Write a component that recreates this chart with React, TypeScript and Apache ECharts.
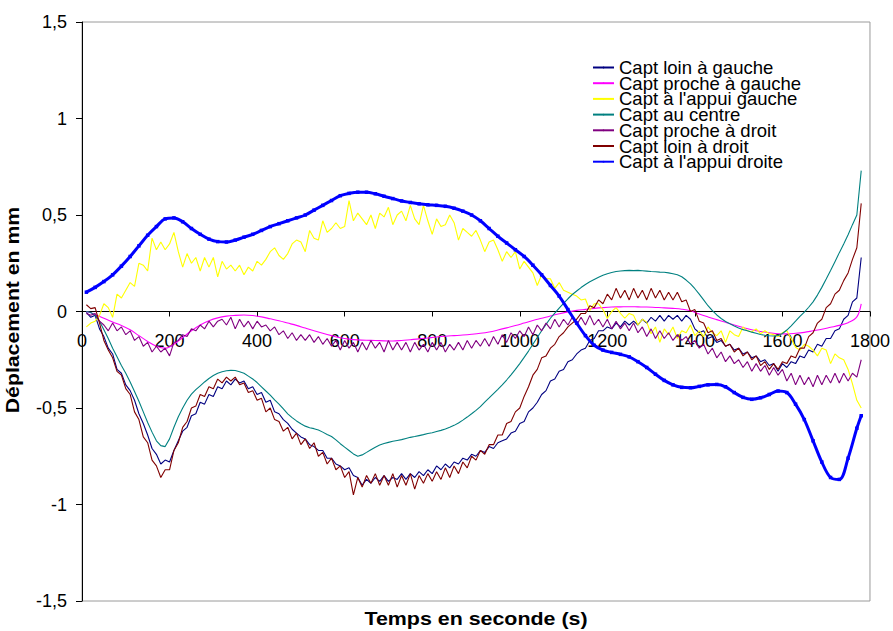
import React, { useEffect, useRef } from "react";
import * as echarts from "echarts";

const FONT = "'Liberation Sans', Arial, Helvetica, sans-serif";

const X_MIN = 0;
const X_MAX = 1800;
const X_STEP = 200;
const Y_MIN = -1.5;
const Y_MAX = 1.5;
const Y_STEP = 0.5;

const X_TITLE = "Temps en seconde (s)";
const Y_TITLE = "Déplacement en mm";

const seriesNames = [
  "Capt loin à gauche",
  "Capt proche à gauche",
  "Capt à l'appui gauche",
  "Capt au centre",
  "Capt proche à droit",
  "Capt loin à droit",
  "Capt à l'appui droite",
];
const seriesColors = ["#000080", "#FF00FF", "#FFFF00", "#008080", "#800080", "#800000", "#0000FF"];

// sampled every 10 s, from 10 s to 1780 s
const captLoinGauche = [
  -0.005, -0.03, -0.02, -0.09, -0.13, -0.19, -0.22, -0.3, -0.32, -0.38,
  -0.41, -0.46, -0.53, -0.58, -0.64, -0.71, -0.74, -0.79, -0.77, -0.78,
  -0.72, -0.67, -0.62, -0.6, -0.54, -0.53, -0.47, -0.48, -0.43, -0.44,
  -0.39, -0.4, -0.36, -0.38, -0.35, -0.37, -0.36, -0.4, -0.39, -0.43,
  -0.42, -0.47, -0.46, -0.52, -0.53, -0.56, -0.58, -0.61, -0.63, -0.65,
  -0.66, -0.69, -0.7, -0.72, -0.72, -0.76, -0.76, -0.79, -0.8, -0.82,
  -0.81, -0.85, -0.86, -0.9, -0.87, -0.89, -0.86, -0.88, -0.85, -0.88,
  -0.86, -0.87, -0.84, -0.87, -0.84, -0.86, -0.83, -0.85, -0.82, -0.84,
  -0.8, -0.82, -0.79, -0.81, -0.78, -0.79, -0.76, -0.77, -0.74, -0.75,
  -0.72, -0.73, -0.7, -0.71, -0.68, -0.67, -0.66, -0.63, -0.62, -0.58,
  -0.57, -0.52, -0.5, -0.47, -0.43, -0.41, -0.36, -0.35, -0.31, -0.3,
  -0.26, -0.25, -0.22, -0.2, -0.19, -0.15, -0.14, -0.1, -0.1, -0.08,
  -0.09, -0.06, -0.08, -0.05, -0.07, -0.05, -0.07, -0.04, -0.06, -0.03,
  -0.05, -0.02, -0.05, -0.02, -0.04, -0.02, -0.05, -0.02, -0.04, -0.09,
  -0.11, -0.1, -0.14, -0.13, -0.16, -0.15, -0.18, -0.17, -0.2, -0.19,
  -0.22, -0.21, -0.24, -0.23, -0.26, -0.25, -0.28, -0.27, -0.31, -0.27,
  -0.29, -0.26, -0.27, -0.23, -0.24, -0.2, -0.21, -0.17, -0.18, -0.14,
  -0.14, -0.1, -0.09, -0.04, -0.02, 0.05, 0.07, 0.28,
];

// sampled every 20 s, from 10 s, last sample at 1780 s
const captProcheGauche = [
  0.0, -0.015, -0.035, -0.055, -0.072, -0.095, -0.125, -0.155, -0.18, -0.19,
  -0.17, -0.135, -0.1, -0.07, -0.048, -0.033, -0.024, -0.02, -0.018, -0.021,
  -0.028, -0.038, -0.048, -0.06, -0.072, -0.086, -0.1, -0.113, -0.125, -0.136,
  -0.143, -0.147, -0.149, -0.15, -0.152, -0.153, -0.15, -0.146, -0.142, -0.137,
  -0.132, -0.128, -0.125, -0.122, -0.118, -0.113, -0.106, -0.096, -0.085, -0.073,
  -0.06, -0.047, -0.035, -0.023, -0.012, -0.002, 0.006, 0.011, 0.016, 0.02,
  0.023, 0.024, 0.025, 0.024, 0.023, 0.021, 0.019, 0.016, 0.012, 0.004,
  -0.013, -0.028, -0.042, -0.056, -0.07, -0.083, -0.095, -0.104, -0.11, -0.115,
  -0.116, -0.113, -0.108, -0.1, -0.092, -0.082, -0.072, -0.058, -0.028,
  0.04,
];

// sampled every 10 s
const captAppuiGauche = [
  -0.08, -0.06, -0.05, -0.02, 0.04, 0.02, -0.03, 0.09, 0.07, 0.11,
  0.15, 0.13, 0.25, 0.24, 0.21, 0.38, 0.32, 0.36, 0.32, 0.35,
  0.41, 0.31, 0.23, 0.3, 0.25, 0.28, 0.21, 0.28, 0.23, 0.28,
  0.18, 0.26, 0.22, 0.24, 0.21, 0.24, 0.19, 0.23, 0.21, 0.26,
  0.24, 0.27, 0.31, 0.33, 0.29, 0.27, 0.3, 0.35, 0.37, 0.36,
  0.31, 0.42, 0.38, 0.37, 0.47, 0.41, 0.43, 0.46, 0.43, 0.44,
  0.575, 0.47, 0.51, 0.48, 0.45, 0.5, 0.43, 0.51, 0.49, 0.54,
  0.45, 0.5, 0.52, 0.47, 0.55, 0.48, 0.45, 0.55, 0.47, 0.4,
  0.48, 0.44, 0.45, 0.5, 0.46, 0.37, 0.43, 0.41, 0.39, 0.42,
  0.37, 0.31, 0.36, 0.37, 0.32, 0.26, 0.31, 0.28, 0.31, 0.22,
  0.26, 0.23, 0.2, 0.135, 0.19, 0.17, 0.17, 0.12, 0.15, 0.11,
  0.1, 0.09, 0.08, 0.06, 0.065, 0.005, 0.04, 0.04, 0.01, -0.036,
  0.0, 0.02, -0.01, -0.035, -0.01, -0.02, -0.07, -0.04, -0.055, -0.115,
  -0.08, -0.16, -0.09, -0.12, -0.08, -0.14, -0.1, -0.11, -0.07, -0.125,
  -0.1, -0.13, -0.08, -0.11, -0.125, -0.1, -0.16, -0.1, -0.12, -0.13,
  -0.08, -0.1, -0.105, -0.09, -0.115, -0.1, -0.115, -0.12, -0.13, -0.11,
  -0.1, -0.14, -0.185, -0.2, -0.17, -0.18, -0.2, -0.23, -0.19, -0.2,
  -0.27, -0.22, -0.24, -0.25, -0.3, -0.375, -0.46, -0.5,
];

// sampled every 10 s
const captCentre = [
  0.0, -0.005, -0.02, -0.05, -0.095, -0.14, -0.19, -0.235, -0.28, -0.32,
  -0.365, -0.415, -0.465, -0.52, -0.575, -0.625, -0.67, -0.695, -0.7, -0.66,
  -0.6, -0.545, -0.5, -0.46, -0.428, -0.405, -0.385, -0.365, -0.347, -0.332,
  -0.32, -0.312, -0.307, -0.305, -0.306, -0.312, -0.32, -0.335, -0.35, -0.368,
  -0.39, -0.412, -0.433, -0.458, -0.48, -0.505, -0.53, -0.55, -0.567, -0.582,
  -0.594, -0.602, -0.607, -0.614, -0.625, -0.637, -0.648, -0.665, -0.685, -0.703,
  -0.72, -0.738, -0.75, -0.743, -0.73, -0.716, -0.703, -0.692, -0.684, -0.678,
  -0.672, -0.668, -0.664, -0.658, -0.652, -0.648, -0.643, -0.638, -0.632, -0.628,
  -0.622, -0.616, -0.609, -0.6, -0.59, -0.578, -0.563, -0.547, -0.53, -0.512,
  -0.493, -0.47, -0.448, -0.425, -0.403, -0.38, -0.355, -0.328, -0.3, -0.27,
  -0.238, -0.205, -0.17, -0.135, -0.1, -0.067, -0.035, -0.008, 0.018, 0.042,
  0.066, 0.088, 0.106, 0.124, 0.14, 0.154, 0.166, 0.178, 0.188, 0.196,
  0.202, 0.207, 0.21, 0.212, 0.213, 0.212, 0.213, 0.211, 0.209, 0.207,
  0.206, 0.204, 0.203, 0.2, 0.196, 0.19, 0.18, 0.163, 0.143, 0.118,
  0.09, 0.06, 0.03, 0.004, -0.018, -0.036, -0.052, -0.064, -0.075, -0.085,
  -0.094, -0.1, -0.107, -0.113, -0.119, -0.123, -0.126, -0.127, -0.124, -0.114,
  -0.096, -0.074, -0.05, -0.025, -0.003, 0.022, 0.05, 0.085, 0.125, 0.168,
  0.212, 0.258, 0.305, 0.35, 0.398, 0.45, 0.5, 0.73,
];

// sampled every 10 s
const captProcheDroit = [
  -0.01, -0.02, -0.01, -0.05, -0.07, -0.1, -0.06, -0.1, -0.08, -0.12,
  -0.1, -0.15, -0.13, -0.18, -0.16, -0.21, -0.18, -0.21, -0.19, -0.23,
  -0.16, -0.15, -0.12, -0.13, -0.09, -0.1, -0.07, -0.09, -0.05, -0.08,
  -0.05, -0.04, -0.07, -0.03, -0.09, -0.04, -0.08, -0.05, -0.09, -0.05,
  -0.08, -0.07, -0.1, -0.08, -0.12, -0.1, -0.14, -0.11, -0.15, -0.12,
  -0.15, -0.12, -0.16, -0.13, -0.17, -0.14, -0.18, -0.15, -0.2, -0.15,
  -0.19, -0.16, -0.21, -0.16, -0.2, -0.15, -0.19, -0.16, -0.21, -0.15,
  -0.2, -0.16, -0.2, -0.16, -0.21, -0.16, -0.2, -0.17, -0.21, -0.16,
  -0.2, -0.16, -0.21, -0.17, -0.2, -0.16, -0.2, -0.15, -0.19, -0.15,
  -0.18, -0.14, -0.18, -0.13, -0.17, -0.12, -0.16, -0.11, -0.14, -0.1,
  -0.13, -0.08, -0.12, -0.07, -0.1, -0.06, -0.09, -0.04, -0.08, -0.04,
  -0.07, -0.03, -0.07, -0.03, -0.07, -0.02, -0.07, -0.04, -0.08, -0.04,
  -0.09, -0.05, -0.09, -0.06, -0.1, -0.06, -0.11, -0.08, -0.13, -0.09,
  -0.14, -0.1, -0.14, -0.11, -0.15, -0.12, -0.15, -0.13, -0.17, -0.15,
  -0.19, -0.17, -0.22, -0.19, -0.24, -0.21, -0.26, -0.23, -0.27, -0.25,
  -0.29, -0.26, -0.31, -0.27, -0.31, -0.28, -0.33, -0.29, -0.33, -0.3,
  -0.36, -0.32, -0.38, -0.33, -0.38, -0.34, -0.39, -0.33, -0.38, -0.33,
  -0.37, -0.32, -0.37, -0.32, -0.36, -0.32, -0.34, -0.25,
];

// sampled every 10 s
const captLoinDroit = [
  0.035, 0.015, 0.02, -0.06, -0.15, -0.2, -0.24, -0.31, -0.33, -0.4,
  -0.43, -0.52, -0.56, -0.65, -0.68, -0.77, -0.8, -0.86, -0.82, -0.82,
  -0.72, -0.68, -0.6, -0.57, -0.5, -0.49, -0.43, -0.44, -0.39, -0.4,
  -0.35, -0.37, -0.34, -0.36, -0.34, -0.38, -0.37, -0.42, -0.41, -0.46,
  -0.45, -0.52, -0.5, -0.56, -0.57, -0.62, -0.6, -0.66, -0.63, -0.69,
  -0.66, -0.71, -0.68, -0.75, -0.73, -0.79, -0.76, -0.82, -0.8, -0.86,
  -0.83, -0.95, -0.86, -0.91, -0.85, -0.89, -0.84, -0.9, -0.85, -0.9,
  -0.84, -0.91, -0.85, -0.9, -0.84, -0.92, -0.85, -0.89, -0.84, -0.88,
  -0.83, -0.87, -0.81, -0.86, -0.8, -0.84, -0.78, -0.81, -0.75, -0.77,
  -0.72, -0.74, -0.69, -0.69, -0.64, -0.64, -0.58, -0.57, -0.52, -0.5,
  -0.44, -0.39, -0.33, -0.3, -0.24, -0.23, -0.19, -0.17, -0.13, -0.11,
  -0.08, -0.06, -0.04, -0.01, -0.01, 0.03, 0.02, 0.06, 0.04, 0.09,
  0.06, 0.12, 0.07, 0.11, 0.06, 0.12, 0.07, 0.11, 0.06, 0.12,
  0.07, 0.11, 0.06, 0.1, 0.06, 0.1, 0.05, 0.06, 0.0, 0.01,
  -0.05, -0.06, -0.11, -0.1, -0.15, -0.14, -0.18, -0.17, -0.21, -0.19,
  -0.23, -0.21, -0.25, -0.23, -0.28, -0.26, -0.3, -0.27, -0.3, -0.26,
  -0.27, -0.23, -0.24, -0.19, -0.19, -0.13, -0.11, -0.06, -0.04, 0.02,
  0.04, 0.09, 0.11, 0.16, 0.2, 0.27, 0.33, 0.56,
];

// sampled every 20 s, from 10 s, last sample at 1780 s
const captAppuiDroite = [
  0.1, 0.125, 0.155, 0.19, 0.235, 0.285, 0.34, 0.395, 0.44, 0.48,
  0.485, 0.465, 0.43, 0.4, 0.375, 0.362, 0.36, 0.37, 0.385, 0.4,
  0.42, 0.44, 0.455, 0.47, 0.485, 0.5, 0.525, 0.55, 0.575, 0.6,
  0.612, 0.618, 0.618, 0.61, 0.597, 0.585, 0.573, 0.565, 0.558, 0.553,
  0.55, 0.545, 0.535, 0.52, 0.5, 0.47, 0.43, 0.39, 0.355, 0.32,
  0.285, 0.24, 0.19, 0.135, 0.08, 0.01, -0.06, -0.125, -0.175, -0.2,
  -0.212, -0.222, -0.235, -0.26, -0.29, -0.325, -0.357, -0.38, -0.393, -0.395,
  -0.388, -0.38, -0.378, -0.39, -0.42, -0.445, -0.455, -0.447, -0.43, -0.412,
  -0.42, -0.48, -0.56, -0.67, -0.78, -0.86, -0.87, -0.76, -0.605,
  -0.54,
];

const denseTime = (i: number) => 10 + 10 * i;
const coarseTime = (i: number) => Math.min(10 + 20 * i, 1780);

const seriesValues = [
  captLoinGauche,
  captProcheGauche,
  captAppuiGauche,
  captCentre,
  captProcheDroit,
  captLoinDroit,
  captAppuiDroite,
];
const seriesCoarse = [false, true, false, false, false, false, true];

const GRID_TOP = 22;
const GRID_BOTTOM = 30;
const CHART_H = 631;

export default function App() {
  const ref = useRef<HTMLDivElement>(null);

  useEffect(() => {
    if (!ref.current) return;
    const chart = echarts.init(ref.current, undefined, { renderer: "svg" });

    const series = seriesValues.map((vals, s) => {
      const coarse = seriesCoarse[s];
      const data = vals.map((v, i) => [coarse ? coarseTime(i) : denseTime(i), v]);
      const isBlue = s === 6;
      return {
        name: seriesNames[s],
        type: "line",
        data,
        smooth: coarse ? 0.35 : false,
        symbol: isBlue ? "rect" : "none",
        symbolSize: isBlue ? 3.5 : 0,
        showSymbol: isBlue,
        lineStyle: { color: seriesColors[s], width: isBlue ? 3 : 1.1 },
        itemStyle: { color: seriesColors[s] },
        emphasis: { disabled: true },
        z: 2 + s,
      };
    });

    // place the x axis on the y = 0 line (the axis crosses there in the original)
    const plotH = CHART_H - GRID_TOP - GRID_BOTTOM;
    const zeroOffset = -plotH * ((0 - Y_MIN) / (Y_MAX - Y_MIN));

    chart.setOption({
      animation: false,
      backgroundColor: "#ffffff",
      textStyle: { fontFamily: FONT },
      grid: {
        left: 82,
        right: 23,
        top: GRID_TOP,
        bottom: GRID_BOTTOM,
        show: true,
        borderColor: "#9a9a9a",
        borderWidth: 1,
        containLabel: false,
      },
      legend: {
        orient: "vertical",
        left: 592,
        top: 58,
        padding: 0,
        itemGap: -3.3,
        itemWidth: 21,
        itemHeight: 2,
        data: seriesNames,
        textStyle: { fontFamily: FONT, fontSize: 18.5, color: "#000" },
      },
      xAxis: {
        type: "value",
        min: X_MIN,
        max: X_MAX,
        interval: X_STEP,
        position: "bottom",
        offset: zeroOffset,
        axisLine: { show: true, onZero: false, lineStyle: { color: "#000", width: 1 } },
        axisTick: { show: true, length: 5, lineStyle: { color: "#000" } },
        axisLabel: {
          fontFamily: FONT,
          fontSize: 18,
          color: "#000",
          margin: 20,
          showMinLabel: true,
          showMaxLabel: true,
          formatter: (v: number) => String(v),
        },
        splitLine: { show: false },
      },
      yAxis: {
        type: "value",
        min: Y_MIN,
        max: Y_MAX,
        interval: Y_STEP,
        axisLine: { show: true, onZero: false, lineStyle: { color: "#000", width: 1 } },
        axisTick: { show: true, length: 6, lineStyle: { color: "#000" } },
        axisLabel: {
          fontFamily: FONT,
          fontSize: 18,
          color: "#000",
          margin: 15,
          formatter: (v: number) => String(v).replace(".", ","),
        },
        splitLine: { show: false },
      },
      graphic: [
        {
          type: "text",
          x: 476,
          y: 619,
          scaleX: 1.19,
          style: {
            text: X_TITLE,
            font: `bold 18px ${FONT}`,
            fill: "#000",
            align: "center",
            verticalAlign: "middle",
          },
        },
        {
          type: "text",
          x: 13,
          y: 310,
          rotation: Math.PI / 2,
          scaleX: 1.18,
          style: {
            text: Y_TITLE,
            font: `bold 18px ${FONT}`,
            fill: "#000",
            align: "center",
            verticalAlign: "middle",
          },
        },
      ],
      series,
    });

    return () => chart.dispose();
  }, []);

  return (
    <div
      ref={ref}
      style={{ position: "fixed", left: 0, top: 0, width: 893, height: 631, background: "#fff" }}
    />
  );
}
